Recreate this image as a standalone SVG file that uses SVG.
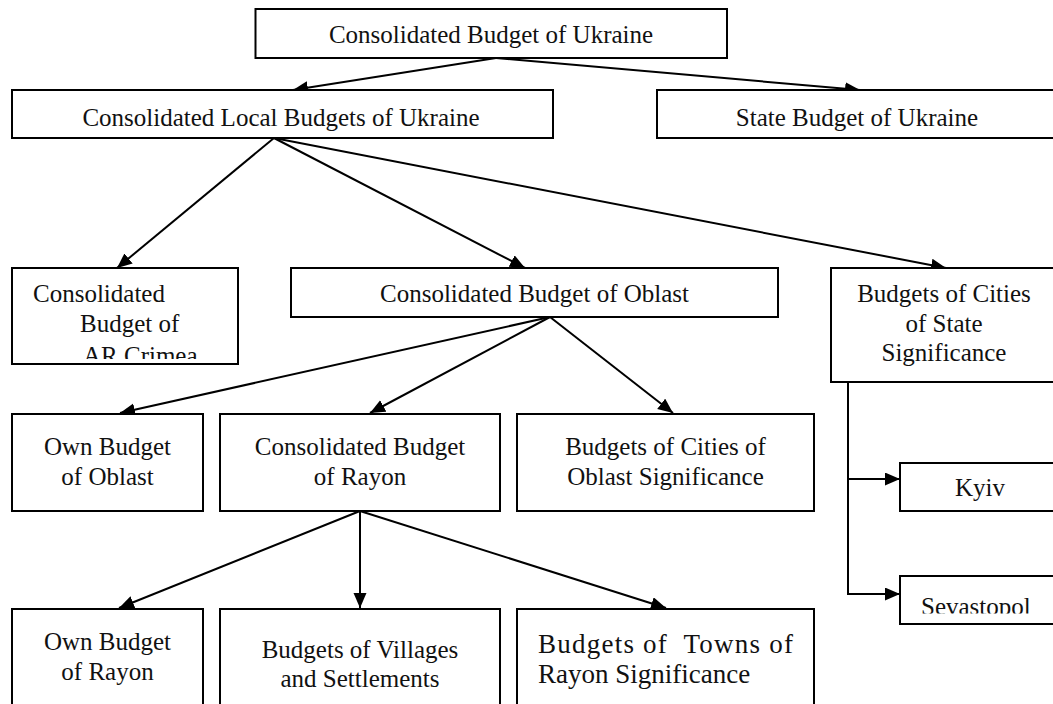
<svg xmlns="http://www.w3.org/2000/svg" width="1053" height="704" viewBox="0 0 1053 704">
<style>
.box{fill:#fff;stroke:#000;stroke-width:2}
.t{font-family:"Liberation Serif",serif;font-size:25px;fill:#111;text-anchor:middle}
.s{text-anchor:start}
.c{stroke:#000;stroke-width:2;fill:none}
</style>
<defs>
<marker id="ah" markerUnits="userSpaceOnUse" markerWidth="16" markerHeight="14" refX="15" refY="6.5" orient="auto">
<path d="M0,0 L15,6.5 L0,13 z" fill="#000"/>
</marker>
<clipPath id="clipCrimea"><rect x="12" y="268" width="226" height="91"/></clipPath>
<clipPath id="clipSev"><rect x="900" y="576" width="153" height="37.5"/></clipPath>
</defs>
<rect width="1053" height="704" fill="#fff"/>

<g id="connectors">
<line class="c" x1="496" y1="58" x2="293" y2="90" marker-end="url(#ah)"/>
<line class="c" x1="496" y1="58" x2="860" y2="90" marker-end="url(#ah)"/>
<line class="c" x1="274" y1="138" x2="117" y2="268" marker-end="url(#ah)"/>
<line class="c" x1="274" y1="138" x2="525" y2="268" marker-end="url(#ah)"/>
<line class="c" x1="274" y1="138" x2="946" y2="268" marker-end="url(#ah)"/>
<line class="c" x1="550" y1="317" x2="120" y2="413" marker-end="url(#ah)"/>
<line class="c" x1="550" y1="317" x2="370" y2="413" marker-end="url(#ah)"/>
<line class="c" x1="550" y1="317" x2="673" y2="413" marker-end="url(#ah)"/>
<line class="c" x1="360" y1="511" x2="119" y2="608" marker-end="url(#ah)"/>
<line class="c" x1="360" y1="511" x2="360" y2="608" marker-end="url(#ah)"/>
<line class="c" x1="360" y1="511" x2="666" y2="608" marker-end="url(#ah)"/>
<polyline class="c" points="848,382 848,594"/>
<line class="c" x1="847" y1="479" x2="900" y2="479" marker-end="url(#ah)"/>
<line class="c" x1="847" y1="594" x2="900" y2="594" marker-end="url(#ah)"/>
</g>

<g id="n-consolidated-ukraine">
<rect class="box" x="255.5" y="9" width="471.5" height="49"/>
<text class="t" x="491" y="43">Consolidated Budget of Ukraine</text>
</g>
<g id="n-local">
<rect class="box" x="12" y="90" width="541" height="48"/>
<text class="t" x="281" y="126">Consolidated Local Budgets of Ukraine</text>
</g>
<g id="n-state">
<rect class="box" x="657" y="90" width="420" height="48"/>
<text class="t" x="857" y="126">State Budget of Ukraine</text>
</g>
<g id="n-crimea">
<rect class="box" x="12" y="268" width="226" height="96"/>
<text class="t s" x="33" y="302">Consolidated</text>
<text class="t s" x="80" y="332">Budget of</text>
<text class="t s" x="83" y="364" clip-path="url(#clipCrimea)">AR Crimea</text>
</g>
<g id="n-oblast">
<rect class="box" x="291" y="268" width="487" height="49"/>
<text class="t" x="534.5" y="302">Consolidated Budget of Oblast</text>
</g>
<g id="n-cities-state">
<rect class="box" x="831" y="268" width="240" height="114"/>
<text class="t" x="944" y="302">Budgets of Cities</text>
<text class="t" x="944" y="332">of State</text>
<text class="t" x="944" y="361">Significance</text>
</g>
<g id="n-own-oblast">
<rect class="box" x="12" y="414" width="191" height="97"/>
<text class="t" x="107.5" y="455">Own Budget</text>
<text class="t" x="107.5" y="485">of Oblast</text>
</g>
<g id="n-rayon">
<rect class="box" x="220" y="414" width="280" height="97"/>
<text class="t" x="360" y="455">Consolidated Budget</text>
<text class="t" x="360" y="485">of Rayon</text>
</g>
<g id="n-cities-oblast">
<rect class="box" x="517" y="414" width="297" height="97"/>
<text class="t" x="665.5" y="455">Budgets of Cities of</text>
<text class="t" x="665.5" y="485">Oblast Significance</text>
</g>
<g id="n-kyiv">
<rect class="box" x="900" y="463" width="180" height="48"/>
<text class="t" x="980" y="496">Kyiv</text>
</g>
<g id="n-sevastopol">
<rect class="box" x="900" y="576" width="180" height="48"/>
<text class="t s" x="921" y="615" clip-path="url(#clipSev)">Sevastopol</text>
</g>
<g id="n-own-rayon">
<rect class="box" x="12" y="609" width="191" height="110"/>
<text class="t" x="107.5" y="650">Own Budget</text>
<text class="t" x="107.5" y="680">of Rayon</text>
</g>
<g id="n-villages">
<rect class="box" x="220" y="609" width="280" height="110"/>
<text class="t" x="360" y="658">Budgets of Villages</text>
<text class="t" x="360" y="687">and Settlements</text>
</g>
<g id="n-towns">
<rect class="box" x="517" y="609" width="297" height="110"/>
<text class="t s" x="538" y="653" style="font-size:27px" textLength="255" xml:space="preserve">Budgets of  Towns of</text>
<text class="t s" x="538" y="683" style="font-size:27px">Rayon Significance</text>
</g>
</svg>
